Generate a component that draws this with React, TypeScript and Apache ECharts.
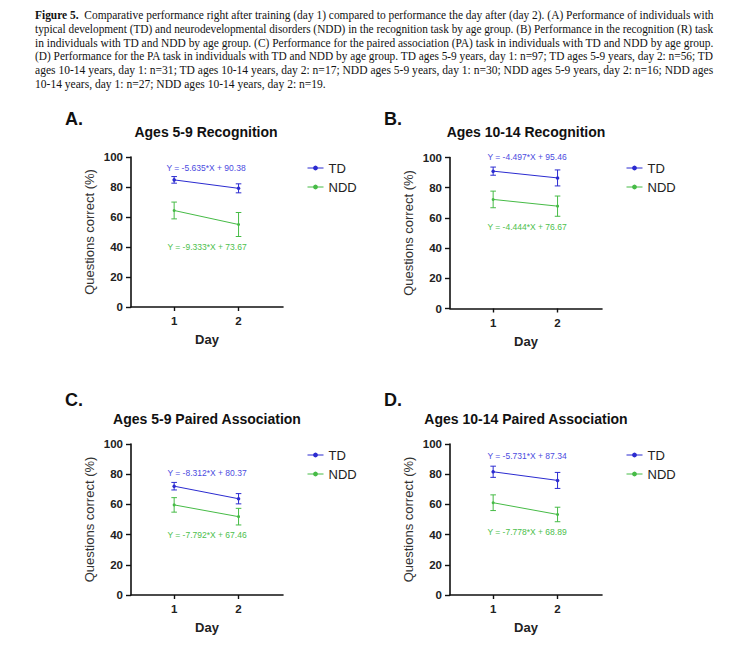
import React, { useEffect, useRef } from "react";
import * as echarts from "echarts";

const days = [1, 2];
const panelLetters = ["A.", "B.", "C.", "D."];
const panelTitles = [
  "Ages 5-9 Recognition",
  "Ages 10-14 Recognition",
  "Ages 5-9 Paired Association",
  "Ages 10-14 Paired Association",
];
const tdMeans = [
  [84.75, 79.11],
  [90.96, 86.47],
  [72.06, 63.75],
  [81.61, 75.88],
];
const tdErr = [
  [2.2, 3.0],
  [2.7, 5.3],
  [2.5, 3.4],
  [3.7, 5.3],
];
const nddMeans = [
  [64.34, 55.0],
  [72.23, 67.78],
  [59.67, 51.88],
  [61.11, 53.33],
];
const nddErr = [
  [5.6, 8.0],
  [5.5, 6.7],
  [4.8, 5.5],
  [5.2, 4.8],
];
const tdEquations = [
  "Y = -5.635*X + 90.38",
  "Y = -4.497*X + 95.46",
  "Y = -8.312*X + 80.37",
  "Y = -5.731*X + 87.34",
];
const nddEquations = [
  "Y = -9.333*X + 73.67",
  "Y = -4.444*X + 76.67",
  "Y = -7.792*X + 67.46",
  "Y = -7.778*X + 68.89",
];
const yTicks = [0, 20, 40, 60, 80, 100];
const captionLead = "Figure 5.";
const captionLines = [
  "Comparative performance right after training (day 1) compared to performance the day after (day 2). (A) Performance of individuals with",
  "typical development (TD) and neurodevelopmental disorders (NDD) in the recognition task by age group. (B) Performance in the recognition (R) task",
  "in individuals with TD and NDD by age group. (C) Performance for the paired association (PA) task in individuals with TD and NDD by age group.",
  "(D) Performance for the PA task in individuals with TD and NDD by age group. TD ages 5-9 years, day 1: n=97; TD ages 5-9 years, day 2: n=56; TD",
  "ages 10-14 years, day 1: n=31; TD ages 10-14 years, day 2: n=17; NDD ages 5-9 years, day 1: n=30; NDD ages 5-9 years, day 2: n=16; NDD ages",
  "10-14 years, day 1: n=27; NDD ages 10-14 years, day 2: n=19.",
];

const BLUE = "#2b2bd0";
const GREEN = "#46bb46";
const BLUE_TXT = "#4b4be0";
const GREEN_TXT = "#4cc04c";
const SANS = "Liberation Sans, Arial, sans-serif";
const SERIF = "Liberation Serif, Times New Roman, serif";
const CAP_SIZE = 12.3;
const CAP_LEFT = 35;
const CAP_RIGHT = 714;

// layout (pixels)
const grids = [
  { left: 131, top: 157, width: 152, height: 150 },
  { left: 450, top: 157.5, width: 152, height: 151 },
  { left: 131, top: 444, width: 152, height: 151 },
  { left: 450, top: 444, width: 152, height: 151 },
];
const legendPos = [
  { left: 302, top: 156 },
  { left: 621, top: 156 },
  { left: 302, top: 443 },
  { left: 621, top: 443 },
];
const letterPos = [
  { x: 65, y: 119 },
  { x: 384, y: 119 },
  { x: 65, y: 400 },
  { x: 384, y: 400 },
];
const titlePos = [
  { x: 206, y: 132 },
  { x: 526, y: 132 },
  { x: 207, y: 419 },
  { x: 526, y: 419 },
];
const tdEqPos = [
  { x: 206, y: 168 },
  { x: 527, y: 157 },
  { x: 207, y: 473 },
  { x: 527, y: 456 },
];
const nddEqPos = [
  { x: 207, y: 247 },
  { x: 527, y: 227 },
  { x: 207, y: 535 },
  { x: 527, y: 532 },
];

function measure(text: string, weight: string): number {
  const c = document.createElement("canvas").getContext("2d");
  if (!c) return text.length * CAP_SIZE * 0.45;
  c.font = `${weight} ${CAP_SIZE}px "Liberation Serif", "Times New Roman", serif`;
  return c.measureText(text).width;
}

function errorBarSeries(idx: number, means: number[], errs: number[], color: string) {
  return {
    type: "custom",
    xAxisIndex: idx,
    yAxisIndex: idx,
    silent: true,
    z: 3,
    encode: { x: 0, y: [1, 2] },
    data: days.map((d, i) => [d, means[i] - errs[i], means[i] + errs[i]]),
    renderItem: (params: any, api: any) => {
      const x = api.value(0);
      const lo = api.coord([x, api.value(1)]);
      const hi = api.coord([x, api.value(2)]);
      const w = 2.8;
      const st = { stroke: color, lineWidth: 1 };
      return {
        type: "group",
        children: [
          { type: "line", shape: { x1: lo[0], y1: lo[1], x2: hi[0], y2: hi[1] }, style: st },
          { type: "line", shape: { x1: lo[0] - w, y1: lo[1], x2: lo[0] + w, y2: lo[1] }, style: st },
          { type: "line", shape: { x1: hi[0] - w, y1: hi[1], x2: hi[0] + w, y2: hi[1] }, style: st },
        ],
      };
    },
  };
}

function buildOption() {
  const grid = grids.map((g) => ({ ...g, containLabel: false }));
  const xAxis = grids.map((_, i) => ({
    type: "value",
    gridIndex: i,
    min: 0.33,
    max: 2.69,
    name: "Day",
    nameLocation: "middle",
    nameGap: 26,
    nameTextStyle: { fontFamily: SANS, fontWeight: "bold", fontSize: 13, color: "#222" },
    axisLine: { show: true, onZero: false, lineStyle: { color: "#111", width: 1.6 } },
    axisTick: { show: true, length: 4, customValues: days, lineStyle: { color: "#111", width: 1.4 } },
    axisLabel: {
      show: true,
      customValues: days,
      margin: 8,
      fontFamily: SANS,
      fontWeight: "bold",
      fontSize: 11.5,
      color: "#222",
    },
    splitLine: { show: false },
  }));
  const yAxis = grids.map((_, i) => ({
    type: "value",
    gridIndex: i,
    min: 0,
    max: 100,
    interval: 20,
    name: "Questions correct (%)",
    nameLocation: "middle",
    nameGap: 35,
    nameTextStyle: { fontFamily: SANS, fontSize: 13, color: "#333" },
    axisLine: { show: true, lineStyle: { color: "#111", width: 1.6 } },
    axisTick: { show: true, length: 5, lineStyle: { color: "#111", width: 1.4 } },
    axisLabel: {
      margin: 8,
      fontFamily: SANS,
      fontWeight: "bold",
      fontSize: 11.5,
      color: "#222",
      customValues: yTicks,
    },
    splitLine: { show: false },
  }));
  const series: any[] = [];
  grids.forEach((_, i) => {
    series.push({
      type: "line",
      name: "TD",
      xAxisIndex: i,
      yAxisIndex: i,
      data: days.map((d, k) => [d, tdMeans[i][k]]),
      symbol: "circle",
      symbolSize: 3.5,
      lineStyle: { color: BLUE, width: 1 },
      itemStyle: { color: BLUE },
      z: 4,
    });
    series.push(errorBarSeries(i, tdMeans[i], tdErr[i], BLUE));
    series.push({
      type: "line",
      name: "NDD",
      xAxisIndex: i,
      yAxisIndex: i,
      data: days.map((d, k) => [d, nddMeans[i][k]]),
      symbol: "circle",
      symbolSize: 3,
      lineStyle: { color: GREEN, width: 1 },
      itemStyle: { color: GREEN },
      z: 4,
    });
    series.push(errorBarSeries(i, nddMeans[i], nddErr[i], GREEN));
  });
  const legend = legendPos.map((p) => ({
    data: ["TD", "NDD"],
    orient: "vertical",
    left: p.left,
    top: p.top,
    itemWidth: 16,
    itemHeight: 6,
    itemGap: 5,
    selectedMode: false,
    lineStyle: { width: 1 },
    itemStyle: { borderWidth: 0 },
    textStyle: { fontFamily: SANS, fontSize: 13, color: "#222", lineHeight: 14 },
  }));

  const graphic: any[] = [];
  const targetW = CAP_RIGHT - CAP_LEFT;
  captionLines.forEach((line, i) => {
    let w = 0;
    let style: any;
    if (i === 0) {
      w = measure(captionLead, "bold") + measure("  " + line, "normal");
      style = {
        text: "{b|" + captionLead + "}  " + line,
        fontFamily: SERIF,
        fontSize: CAP_SIZE,
        fill: "#111",
        textVerticalAlign: "middle",
        rich: { b: { fontFamily: SERIF, fontSize: CAP_SIZE, fontWeight: "bold", fill: "#111" } },
      };
    } else {
      w = measure(line, "normal");
      style = { text: line, fontFamily: SERIF, fontSize: CAP_SIZE, fill: "#111", textVerticalAlign: "middle" };
    }
    const last = i === captionLines.length - 1;
    const sx = last ? (targetW / (measure(captionLines[4], "normal") || targetW)) : targetW / (w || targetW);
    graphic.push({
      type: "text",
      x: CAP_LEFT,
      y: 15 + i * 13.7,
      scaleX: Math.min(1.2, Math.max(0.75, sx)),
      style,
    });
  });
  panelLetters.forEach((l, i) => {
    graphic.push({
      type: "text",
      x: letterPos[i].x,
      y: letterPos[i].y,
      style: {
        text: l,
        fontFamily: SANS,
        fontWeight: "bold",
        fontSize: 18,
        fill: "#111",
        textVerticalAlign: "middle",
      },
    });
    graphic.push({
      type: "text",
      x: titlePos[i].x,
      y: titlePos[i].y,
      style: {
        text: panelTitles[i],
        fontFamily: SANS,
        fontWeight: "bold",
        fontSize: 14,
        fill: "#111",
        textAlign: "center",
        textVerticalAlign: "middle",
      },
    });
    graphic.push({
      type: "text",
      x: tdEqPos[i].x,
      y: tdEqPos[i].y,
      style: {
        text: tdEquations[i],
        fontFamily: SANS,
        fontSize: 8.5,
        fill: BLUE_TXT,
        textAlign: "center",
        textVerticalAlign: "middle",
      },
    });
    graphic.push({
      type: "text",
      x: nddEqPos[i].x,
      y: nddEqPos[i].y,
      style: {
        text: nddEquations[i],
        fontFamily: SANS,
        fontSize: 8.5,
        fill: GREEN_TXT,
        textAlign: "center",
        textVerticalAlign: "middle",
      },
    });
  });

  return {
    animation: false,
    backgroundColor: "#ffffff",
    grid,
    xAxis,
    yAxis,
    legend,
    series,
    graphic,
  };
}

export default function App() {
  const ref = useRef<HTMLDivElement>(null);
  useEffect(() => {
    if (!ref.current) return;
    const chart = echarts.init(ref.current, null, { renderer: "svg" });
    chart.setOption(buildOption() as any);
    return () => chart.dispose();
  }, []);
  return (
    <div
      ref={ref}
      style={{ position: "absolute", left: 0, top: 0, width: 737, height: 655, background: "#fff" }}
    />
  );
}
